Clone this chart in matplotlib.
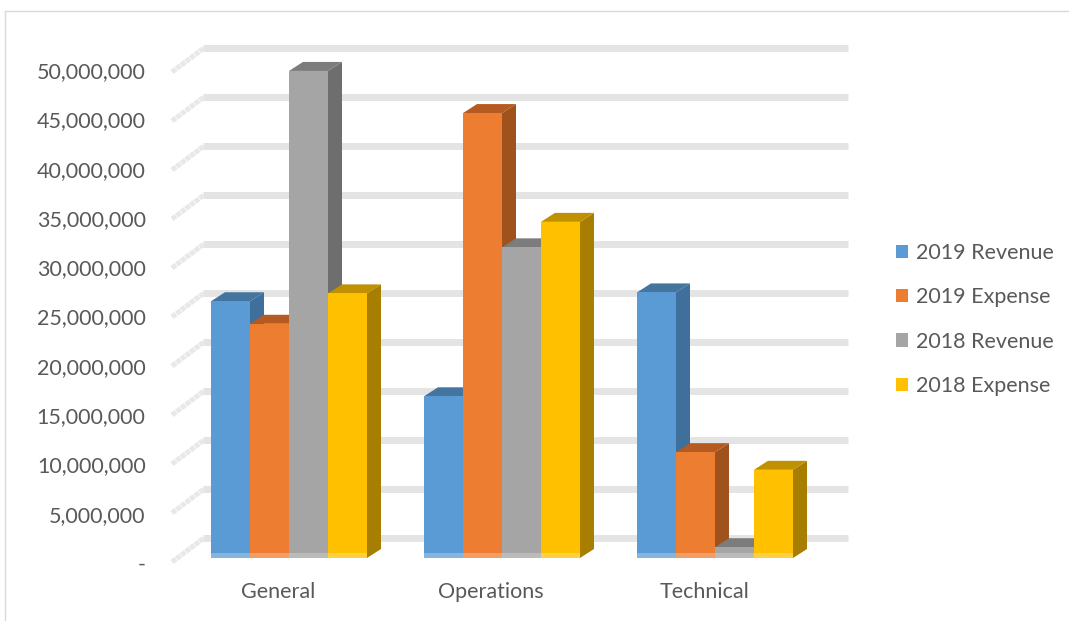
import matplotlib
matplotlib.use('Agg')
import matplotlib.pyplot as plt
from matplotlib.lines import Line2D
from matplotlib.patches import Patch, Polygon, Rectangle

plt.rcParams['font.family'] = ['Lato', 'DejaVu Sans']

categories = ['General', 'Operations', 'Technical']
series_names = ['2019 Revenue', '2019 Expense', '2018 Revenue', '2018 Expense']
revenue_2019 = [26200000, 16500000, 27100000]
expense_2019 = [23900000, 45400000, 10800000]
revenue_2018 = [49700000, 31700000, 1100000]
expense_2018 = [27000000, 34300000, 9000000]
series_values = [revenue_2019, expense_2019, revenue_2018, expense_2018]
tick_values = list(range(0, 55000000, 5000000))
tick_labels = ['-'] + [f'{v:,}' for v in tick_values[1:]]

front_colors = ['#5B9BD5', '#ED7D31', '#A5A5A5', '#FFC000']
side_colors = ['#3F6F9B', '#9F521C', '#6E6E6E', '#A87E00']
top_colors = ['#44759F', '#B55A20', '#7C7C7C', '#BF9000']

W, H = 1069, 621
# scale of the plot, pixels per category and value per pixel
PX_X = 1 / 213
PX_Y = 5000000 / 49
BAR_W = 39.0 * PX_X
DEPTH_X = 14 * PX_X
DEPTH_Y = 9 * PX_Y
FONT_SIZE = 15.5

fig = plt.figure(figsize=(W / 100, H / 100), dpi=100)
left, right, top, bottom = 172, 848, 30, 563
ax = fig.add_axes([left / W, 1 - bottom / H, (right - left) / W, (bottom - top) / H])
ax.set_xlim((left - 289) * PX_X, (right - 289) * PX_X)
ax.set_ylim((558 - bottom) * PX_Y, (558 - top) * PX_Y)
ax.patch.set_alpha(0)
for spine in ax.spines.values():
    spine.set_visible(False)

# back wall gridlines and the diagonal side wall
for v in tick_values:
    back_y = v + 20 * PX_Y
    ax.plot([(203 - 289) * PX_X, (848 - 289) * PX_X], [back_y, back_y], color='#E4E4E4',
            lw=5, solid_capstyle='butt', zorder=1, clip_on=False)
    ax.plot([(172 - 289) * PX_X, (204 - 289) * PX_X], [v - 4 * PX_Y, back_y], color='#E8E8E8',
            lw=3.6, dashes=(1.0, 0.15), dash_capstyle='butt', zorder=1, clip_on=False)

# bars, left to right so each one covers the side of the previous
z = 2
for c in range(len(categories)):
    start = c - 2 * BAR_W
    for s, values in enumerate(series_values):
        x0 = start + s * BAR_W
        x1 = x0 + BAR_W
        v = values[c]
        ax.add_patch(Polygon([(x1, 0), (x1 + DEPTH_X, DEPTH_Y), (x1 + DEPTH_X, v + DEPTH_Y), (x1, v)],
                             facecolor=side_colors[s], edgecolor='none', zorder=z))
        ax.add_patch(Polygon([(x0, v), (x0 + DEPTH_X, v + DEPTH_Y), (x1 + DEPTH_X, v + DEPTH_Y), (x1, v)],
                             facecolor=top_colors[s], edgecolor='none', zorder=z))
        ax.add_patch(Rectangle((x0, 0), BAR_W, v, facecolor=front_colors[s], edgecolor='none', zorder=z + 1))
        # pale band at the foot of every bar
        ax.add_patch(Rectangle((x0, 0), BAR_W, min(v, 5 * PX_Y), facecolor='white', alpha=0.25,
                               edgecolor='none', zorder=z + 2))
        z += 3

# tick labels follow the front edge of the floor, a bit below the bar feet
ax.set_yticks([(558 - (563 - 49.3 * v / 5000000)) * PX_Y for v in tick_values])
ax.set_yticklabels(tick_labels)
# category labels sit left of the bar groups, on the front edge of the floor
ax.set_xticks([c - 11 * PX_X for c in range(len(categories))])
ax.set_xticklabels(categories)
ax.tick_params(axis='both', length=0, labelsize=FONT_SIZE, labelcolor='#595959')
ax.tick_params(axis='y', pad=19)
ax.tick_params(axis='x', pad=14)

handles = [Patch(facecolor=col, edgecolor='none', label=name) for col, name in zip(front_colors, series_names)]
fig.legend(handles=handles, loc='center left', bbox_to_anchor=(896 / W, 1 - 319.5 / H), frameon=False,
           fontsize=FONT_SIZE, labelcolor='#595959', handlelength=0.56, handleheight=0.56, handletextpad=0.37,
           labelspacing=1.13, borderpad=0, borderaxespad=0)

# chart frame
fig.add_artist(Line2D([5 / W, 1], [1 - 11 / H, 1 - 11 / H], color='#D9D9D9', lw=1))
fig.add_artist(Line2D([5 / W, 5 / W], [0, 1 - 11 / H], color='#D9D9D9', lw=1))

plt.savefig('out.png', dpi=100)
